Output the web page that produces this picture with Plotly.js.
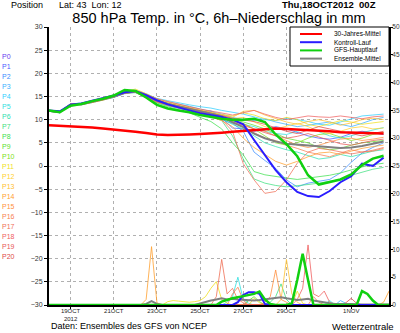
<!DOCTYPE html>
<html><head><meta charset="utf-8">
<script src="https://cdn.plot.ly/plotly-3.0.1.min.js"></script>
<style>html,body{margin:0;padding:0;background:#fff}#c{width:400px;height:333px}</style>
</head><body><div id="c"></div>
<script>
// ---------- data ----------
const runStartUTC = Date.UTC(2012, 9, 18, 0);
const tempStepHours = 12, tempSteps = 32;   // 18OCT 00Z .. 2NOV 12Z

const tickVals = ['2012-10-19','2012-10-21','2012-10-23','2012-10-25','2012-10-27','2012-10-29','2012-11-01'];
const tickText = ['19OCT<br>2012','21OCT','23OCT','25OCT','27OCT','29OCT','1NOV'];

const labelNames = ['P0','P1','P2','P3','P4','P5','P6','P7','P8','P9','P10','P11','P12','P13','P14','P15','P16','P17','P18','P19','P20'];
const labelColors = ['#6a3cf0','#4a5cff','#3a8cff','#3ab0ff','#30cfff','#30e0e0','#30e0b0','#40e080','#40e050','#60e030','#80e020',
                     '#f0e020','#ffd030','#ffc030','#ffa030','#ff9040','#f88050','#f07058','#f06060','#e85858','#e04848'];

const legendNames = ['30-Jahres-Mittel','Kontroll-Lauf','GFS-Hauptlauf','Ensemble-Mittel'];
const legendColors = ['#ff0000','#2a1cff','#10d010','#808080'];

// 850 hPa temperature (°C), 12-hourly
const tempClim = [8.8,8.7,8.6,8.4,8.3,8.1,7.9,7.7,7.4,7.1,6.8,6.7,6.7,6.8,6.9,7.0,7.2,7.4,7.6,7.8,8.0,8.1,8.0,7.9,7.8,7.6,7.5,7.3,7.2,7.1,7.0,7.0];
const tempControl = [12.0,11.8,13.2,13.5,14.1,14.6,15.2,15.9,16.2,15.3,14.2,13.3,12.6,12.0,11.4,11.0,10.6,10.0,9.0,5.6,2.4,-0.9,-3.5,-5.6,-6.5,-6.7,-5.4,-3.5,-2.2,0.5,0.0,1.8];
const tempGFS = [12.0,11.6,13.0,13.4,14.0,14.5,15.2,16.4,16.2,14.8,13.2,12.4,12.0,11.6,11.0,10.6,10.2,10.0,10.0,10.2,9.5,6.8,4.7,2.1,-2.0,-4.0,-3.5,-2.9,-1.8,0.2,1.6,2.2];
const tempMean = [11.9,11.6,13.3,13.4,13.9,14.4,15.0,15.8,16.1,15.2,14.1,13.4,12.9,12.3,11.8,11.3,10.7,9.4,8.4,7.0,6.0,5.3,4.8,4.6,4.4,4.2,4.0,3.9,4.0,4.3,4.8,5.3];

const tempP1  = [11.8,11.5,13.2,13.4,13.9,14.4,15.0,15.9,16.1,15.2,14.1,13.5,12.9,12.3,11.5,11.9,10.4, 8.2,8.0,7.5,7.8,8.5,8.0,7.2,6.5,6.0,5.8,6.2,7.0,7.5,7.2,6.8];
const tempP2  = [11.9,11.6,13.4,13.2,13.7,14.2,14.8,15.6,15.9,14.8,13.7,13.0,12.5,11.9,11.3,10.8,10.0, 9.2,7.5,3.0,1.2,-0.5,-3.0,-4.5,-3.7,-3.3,-2.9,-1.5,0.8,2.8,4.0,5.0];
const tempP3  = [12.0,11.7,13.3,13.5,14.0,14.5,15.1,15.9,16.2,15.4,14.4,13.8,13.4,12.9,12.3,11.8,11.2, 10.5,10.0,9.8,10.2,9.5,9.0,8.5,8.8,9.2,9.5,9.0,8.5,9.2,10.0,10.5];
const tempP4  = [11.9,11.8,13.4,13.6,14.1,14.6,15.2,16.0,16.4,15.6,14.6,14.1,13.6,13.2,12.8,12.5,12.0, 11.6,11.2,10.6,10.0,9.8,10.3,10.0,9.6,9.0,8.8,9.5,10.2,10.8,11.0,11.2];
const tempP5  = [11.8,11.6,13.2,13.3,13.8,14.3,14.9,15.7,16.0,15.1,14.0,13.4,12.8,12.3,11.8,11.2,10.7, 9.8,9.0,8.5,7.5,7.0,6.8,7.5,8.0,7.4,6.5,6.0,6.5,7.2,7.8,8.3];
const tempP6  = [12.0,11.6,13.3,13.2,13.7,14.2,14.8,15.8,15.8,14.9,13.8,13.1,12.6,12.0,11.5,10.9,10.2, 9.0,8.0,6.5,5.0,4.2,3.5,3.0,2.2,1.5,1.8,2.5,2.0,2.6,3.2,3.5];
const tempP7  = [11.9,11.5,13.2,13.3,13.8,14.3,14.9,15.9,16.1,15.0,13.9,13.1,12.5,11.9,11.3,10.7,9.8, 6.5,1.5,-2.8,-3.7,-4.2,-4.5,-4.3,-4.0,-3.7,-3.3,-2.9,-2.0,-1.3,-0.7,-0.3];
const tempP8  = [11.8,11.6,13.3,13.4,13.9,14.3,15.0,15.8,15.9,14.8,13.6,12.8,12.2,11.5,10.5,9.6,8.0, 5.0,2.4,-1.2,-1.9,-2.3,-2.6,-2.9,-2.6,-2.3,-2.0,-1.5,-0.8,-0.2,0.3,0.6];
const tempP9  = [12.0,11.7,13.3,13.3,13.8,14.4,15.0,15.7,16.0,15.1,14.1,13.4,12.9,12.4,11.9,11.4,10.8, 10.0,9.5,8.8,8.0,7.0,6.0,5.5,5.0,4.0,3.5,3.8,4.5,5.0,5.2,5.5];
const tempP10 = [11.9,11.6,13.2,13.4,13.9,14.4,14.9,15.8,16.1,15.2,14.0,13.3,12.7,12.1,11.6,11.0,10.3, 9.6,9.2,8.0,6.5,5.0,4.5,5.0,6.0,6.8,7.0,6.2,5.5,6.0,6.8,7.2];
const tempP11 = [12.0,11.8,13.4,13.5,14.0,14.5,15.1,16.1,16.6,15.6,14.5,13.8,13.2,12.6,12.1,11.6,11.1, 10.8,11.5,11.0,10.2,9.8,10.5,10.0,9.0,8.5,9.2,9.8,9.5,9.0,9.3,9.6];
const tempP12 = [11.9,11.7,13.3,13.3,13.8,14.3,15.0,15.9,16.2,15.3,14.2,13.5,12.9,12.4,11.9,11.4,10.8, 10.2,10.5,9.5,8.5,8.0,8.6,9.2,8.5,7.5,7.0,7.5,8.2,8.5,8.0,8.2];
const tempP13 = [12.0,11.7,13.3,13.4,13.9,14.4,15.1,16.0,16.3,15.4,14.3,13.6,13.1,12.6,12.1,11.6,11.0, 10.5,11.8,12.0,11.0,10.2,9.5,9.0,9.6,10.0,9.5,8.8,9.3,10.0,10.3,10.0];
const tempP14 = [11.8,11.6,13.3,13.2,13.7,14.2,14.9,15.7,15.9,14.9,13.8,13.1,12.5,12.0,11.4,10.6,9.8, 8.5,6.0,4.0,2.5,1.0,0.2,1.0,2.0,2.8,3.0,2.5,3.2,3.8,4.2,4.5];
const tempP15 = [11.9,11.6,13.2,13.3,13.8,14.4,15.0,15.8,16.0,15.0,13.9,13.2,12.7,12.1,11.6,11.1,10.5, 10.0,9.0,8.0,7.5,6.5,5.5,4.5,4.0,4.5,5.2,5.8,6.0,5.5,5.8,6.2];
const tempP16 = [11.9,11.7,13.3,13.4,13.8,14.3,14.9,15.8,16.1,15.1,14.0,13.3,12.8,12.2,11.6,11.0,10.3, 9.5,8.5,7.2,6.0,5.5,4.5,3.8,3.0,2.5,2.0,2.8,3.5,3.0,3.2,3.8];
const tempP17 = [12.0,11.6,13.3,13.3,13.8,14.3,14.9,15.8,16.0,15.0,13.9,13.2,12.6,12.0,11.4,10.8,10.0, 7.5,0.5,-3.0,-5.9,-5.5,-3.0,0.6,3.0,3.8,3.5,3.0,2.6,3.0,3.4,4.0];
const tempP18 = [11.9,11.7,13.4,13.5,14.0,14.5,15.2,16.0,16.3,15.5,14.5,13.9,13.3,12.8,12.3,11.9,11.4, 11.0,11.5,12.0,11.2,10.5,10.0,10.4,10.8,10.6,10.5,10.8,10.5,10.2,10.6,10.8];
const tempP19 = [11.8,11.6,13.2,13.3,13.8,14.3,14.9,15.7,16.0,15.0,13.9,13.2,12.7,12.1,11.6,11.0,10.4, 9.5,8.8,8.0,7.2,6.5,6.0,6.4,7.0,6.3,5.5,4.8,4.5,5.0,5.5,5.8];
const tempP20 = [12.0,11.7,13.3,13.4,13.9,14.4,15.0,15.9,16.1,15.2,14.2,13.5,13.0,12.5,12.0,11.5,10.9, 10.3,10.0,9.6,9.0,8.2,7.5,7.0,7.8,8.5,8.0,7.5,7.0,6.5,7.0,7.5];
const tempMembers = [tempP1,tempP2,tempP3,tempP4,tempP5,tempP6,tempP7,tempP8,tempP9,tempP10,
                     tempP11,tempP12,tempP13,tempP14,tempP15,tempP16,tempP17,tempP18,tempP19,tempP20];

// 6h precipitation (mm): [forecast hour, mm]
const precControl = [[0,0],[204,0],[210,0.5],[216,1.8],[222,2.3],[228,2.3],[234,2.0],[240,0.2],[246,0],[378,0]];
const precGFS = [[0,0],[186,0],[192,0.6],[204,1.2],[216,1.6],[228,2.0],[234,2.4],[240,1.0],[246,0.2],[252,0],[264,0],[270,0.3],[276,4.5],[282,9.2],[288,4.5],[294,0],[342,0],[348,2.5],[354,2.0],[360,0.8],[366,0],[378,0]];
const precMean = [[0,0],[102,0],[108,0.2],[114,0.7],[120,0.2],[126,0],[162,0],[168,0.3],[174,0.5],[180,0.8],[186,1.0],[192,1.2],[198,1.0],[204,1.1],[210,1.0],[216,0.9],[222,0.8],[228,0.8],[234,0.9],[240,1.0],[246,1.2],[252,1.3],[258,1.4],[264,1.2],[270,1.0],[276,0.9],[282,1.0],[288,1.1],[294,0.8],[300,0.6],[306,0.4],[312,0.3],[318,0.2],[324,0.2],[330,0.3],[336,0.2],[348,0.1],[378,0.1]];
const precP3  = [[0,0],[318,0],[324,0.8],[330,0.3],[336,0],[378,0]];
const precP5  = [[0,0],[192,0],[198,0.5],[204,1.5],[210,5.0],[216,1.0],[222,0.3],[228,0],[306,0],[312,0.8],[318,0],[378,0]];
const precP7  = [[0,0],[240,0],[246,0.5],[252,1.5],[258,3.8],[264,1.0],[270,0],[378,0]];
const precP9  = [[0,0],[216,0],[222,0.8],[228,1.5],[234,0.6],[240,0],[378,0]];
const precP11 = [[0,0],[126,0],[132,0.6],[138,0.8],[144,0.7],[150,0.6],[156,0.5],[162,0.6],[168,0.8],[174,1.5],[180,3.0],[186,4.2],[192,1.0],[198,0.3],[204,0],[222,0],[228,1.2],[234,0.4],[240,0],[270,0],[276,2.5],[282,0.3],[288,0],[378,0]];
const precP13 = [[0,0],[252,0],[258,1.0],[264,8.2],[270,2.0],[276,0.5],[282,0],[378,0]];
const precP14 = [[0,0],[102,0],[108,1.0],[114,10.5],[120,0.4],[126,0],[366,0],[372,0.5],[378,2.5]];
const precP15 = [[0,0],[234,0],[240,0.5],[246,1.5],[252,6.3],[258,1.0],[264,0.5],[270,0],[378,0]];
const precP16 = [[0,0],[198,0],[204,2.0],[210,3.2],[216,0.8],[222,0],[288,0],[294,1.5],[300,0.5],[306,0],[378,0]];
const precP17 = [[0,0],[180,0],[186,1.5],[192,8.2],[198,2.0],[204,3.0],[210,1.0],[216,0.4],[222,0],[378,0]];
const precP18 = [[0,0],[270,0],[276,1.0],[282,3.0],[288,10.8],[294,2.0],[300,1.5],[306,2.5],[312,0.5],[318,0],[378,0]];
const precP20 = [[0,0],[324,0],[330,0.4],[336,1.2],[342,0.3],[348,0],[378,0]];
const precMembers = {3:precP3,5:precP5,7:precP7,9:precP9,11:precP11,13:precP13,14:precP14,15:precP15,16:precP16,17:precP17,18:precP18,20:precP20};

// ---------- build ----------
function stamp(h){ return new Date(runStartUTC + h*3600e3).toISOString().slice(0,16).replace('T',' '); }
const tempTimes = []; for (let k=0;k<tempSteps;k++) tempTimes.push(stamp(k*tempStepHours));

const FONT = 'Liberation Sans, Arial, sans-serif';
const traces = [];
function precTrace(pairs, color, width, op){
  return {x: pairs.map(p=>stamp(p[0])), y: pairs.map(p=>p[1]), yaxis:'y2', type:'scatter', mode:'lines',
          line:{color:color, width:width}, opacity:op, hoverinfo:'skip', showlegend:false};
}
Object.keys(precMembers).forEach(k => traces.push(precTrace(precMembers[k], labelColors[+k], 1, 0.8)));
tempMembers.forEach((arr,i) => traces.push({x:tempTimes, y:arr, type:'scatter', mode:'lines',
   line:{color:labelColors[i+1], width:1}, opacity:0.75, hoverinfo:'skip', showlegend:false}));
traces.push(precTrace(precMean, legendColors[3], 2, 1));
traces.push(precTrace(precControl, legendColors[1], 2, 1));
traces.push(precTrace(precGFS, legendColors[2], 2.5, 1));
traces.push({x:tempTimes, y:tempMean, type:'scatter', mode:'lines', line:{color:legendColors[3], width:2}, hoverinfo:'skip', showlegend:false});
traces.push({x:tempTimes, y:tempClim, type:'scatter', mode:'lines', line:{color:legendColors[0], width:2.5}, hoverinfo:'skip', showlegend:false});
traces.push({x:tempTimes, y:tempControl, type:'scatter', mode:'lines', line:{color:legendColors[1], width:2}, hoverinfo:'skip', showlegend:false});
traces.push({x:tempTimes, y:tempGFS, type:'scatter', mode:'lines', line:{color:legendColors[2], width:2.5}, hoverinfo:'skip', showlegend:false});

// plot area in px: x 49..389, y 27..305
const L=49, R=389, T=27, B=305, W=R-L, H=B-T;
const px = x => (x-L)/W, py = y => (B-y)/H;

const annotations = [];
const shapes = [];
labelNames.forEach((n,i) => annotations.push({xref:'paper', yref:'paper', x:px(0), y:py(56+10*i), xanchor:'left', yanchor:'middle',
  text:n, showarrow:false, font:{family:FONT, size:7, color:labelColors[i]}}));
annotations.push({xref:'paper', yref:'paper', x:px(9), y:py(4.5), xanchor:'left', yanchor:'middle', showarrow:false,
  text:'Position', font:{family:FONT, size:9, color:'#000'}});
annotations.push({xref:'paper', yref:'paper', x:px(57), y:py(4.5), xanchor:'left', yanchor:'middle', showarrow:false,
  text:'Lat: 43  Lon: 12', font:{family:FONT, size:9, color:'#000'}});
annotations.push({xref:'paper', yref:'paper', x:px(378), y:py(4.5), xanchor:'right', yanchor:'middle', showarrow:false,
  text:'<b>Thu,18OCT2012  00Z</b>', font:{family:FONT, size:9.5, color:'#000'}});
annotations.push({xref:'paper', yref:'paper', x:px(49), y:py(326), xanchor:'left', yanchor:'middle', showarrow:false,
  text:'Daten: Ensembles des GFS von NCEP', font:{family:FONT, size:9, color:'#000'}});
annotations.push({xref:'paper', yref:'paper', x:px(396), y:py(326), xanchor:'right', yanchor:'middle', showarrow:false,
  text:'Wetterzentrale', font:{family:FONT, size:9.5, color:'#000'}});

// legend box
shapes.push({type:'rect', xref:'paper', yref:'paper', x0:px(290), x1:px(389), y0:py(66), y1:py(27),
  line:{color:'#000', width:1}, fillcolor:'#fff', layer:'above'});
legendNames.forEach((n,i) => {
  const yy = py(34 + 8.2*i);
  shapes.push({type:'line', xref:'paper', yref:'paper', x0:px(300), x1:px(322), y0:yy, y1:yy,
    line:{color:legendColors[i], width:2}, layer:'above'});
  annotations.push({xref:'paper', yref:'paper', x:px(332), y:yy, xanchor:'left', yanchor:'middle', showarrow:false,
    text:n, font:{family:FONT, size:6.5, color:'#000'}});
});

const layout = {
  width:400, height:333, margin:{l:L, r:400-R, t:T, b:333-B, pad:0},
  paper_bgcolor:'#fff', plot_bgcolor:'#fff', showlegend:false,
  font:{family:FONT, size:7, color:'#222'},
  title:{text:'850 hPa Temp. in °C, 6h–Niederschlag in mm', x:0.5, xref:'paper', y:1-17.5/333, yanchor:'middle',
         font:{family:FONT, size:14.5, color:'#000'}},
  xaxis:{type:'date', range:['2012-10-18 00:00','2012-11-02 18:00'], tickmode:'array', tickvals:tickVals, ticktext:tickText,
         showline:true, linecolor:'#000', linewidth:2, ticks:'outside', ticklen:2, tickcolor:'#000', ticklabelstandoff:-3,
         showgrid:true, gridcolor:'#b0b0b0', griddash:'dot', gridwidth:1, zeroline:false, automargin:false,
         tickfont:{family:FONT, size:6, color:'#222'}, fixedrange:true},
  yaxis:{range:[-30,30], dtick:5, tick0:0, showline:true, linecolor:'#000', linewidth:2, ticks:'outside', ticklen:3, tickcolor:'#000',
         showgrid:true, gridcolor:'#b0b0b0', griddash:'dot', gridwidth:1, zeroline:false, automargin:false,
         tickfont:{family:FONT, size:7, color:'#333'}, fixedrange:true},
  yaxis2:{range:[0,50], dtick:5, tick0:0, overlaying:'y', side:'right', showline:true, linecolor:'#000', linewidth:2,
          ticks:'outside', ticklen:2, tickcolor:'#000', ticklabelstandoff:-2, showgrid:false, zeroline:false, automargin:false,
          tickfont:{family:FONT, size:6.5, color:'#333'}, fixedrange:true},
  annotations:annotations, shapes:shapes
};
Plotly.newPlot('c', traces, layout, {staticPlot:true, displayModeBar:false});
</script></body></html>
